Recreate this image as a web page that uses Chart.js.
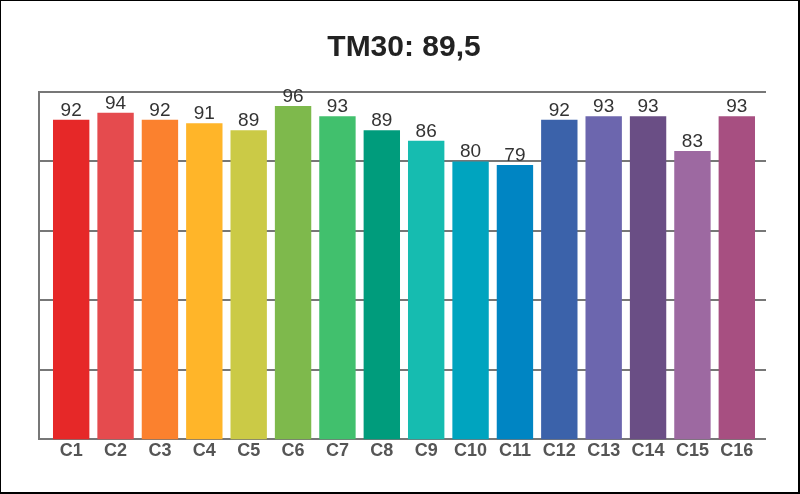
<!DOCTYPE html>
<html>
<head>
<meta charset="utf-8">
<script src="https://cdn.jsdelivr.net/npm/chart.js@4/dist/chart.umd.min.js"></script>
<style>
	html, body { margin: 0; padding: 0; background: #fff; }
	#wrap { position: relative; width: 800px; height: 494px; }
	#frame {
		position: absolute; left: 0; top: 0; right: 0; bottom: 0;
		border-left: 1px solid #000; border-top: 1px solid #000;
		border-right: 2px solid #000; border-bottom: 2px solid #000;
		pointer-events: none;
	}
</style>
</head>
<body>
<div id="wrap">
	<canvas id="tm30-chart" width="800" height="494"></canvas>
	<div id="frame"></div>
</div>
<script>
const titleText = 'TM30: 89,5';

const categories = ['C1', 'C2', 'C3', 'C4', 'C5', 'C6', 'C7', 'C8',
	'C9', 'C10', 'C11', 'C12', 'C13', 'C14', 'C15', 'C16'];

const fidelity = [92, 94, 92, 91, 89, 96, 93, 89, 86, 80, 79, 92, 93, 93, 83, 93];

const gridValues = [0, 20, 40, 60, 80, 100];

const binColors = [
	'#e62828',
	'#e54b4e',
	'#fb812e',
	'#ffb529',
	'#cbca46',
	'#7eb94c',
	'#41c06d',
	'#009c7c',
	'#16bcb0',
	'#00a4bf',
	'#0085c3',
	'#3b62aa',
	'#6c66ae',
	'#6a4e85',
	'#9d69a1',
	'#a74f81'
];

document.addEventListener('DOMContentLoaded', function () {
	const canvas = document.getElementById('tm30-chart');

	// grid frame runs a little past the bars on both sides
	const gridFrame = {
		id: 'gridFrame',
		beforeDatasetsDraw: function (chart) {
			const ctx = chart.ctx;
			const area = chart.chartArea;
			const y = chart.scales.y;
			const left = area.left - 10;
			const right = area.right + 7;

			ctx.save();
			ctx.strokeStyle = '#777';
			ctx.lineWidth = 2;
			ctx.beginPath();
			gridValues.forEach((v) => {
				const py = Math.round(y.getPixelForValue(v));
				ctx.moveTo(left - 1, py);
				ctx.lineTo(right, py);
			});
			ctx.moveTo(left, Math.round(y.getPixelForValue(100)));
			ctx.lineTo(left, Math.round(y.getPixelForValue(0)));
			ctx.stroke();
			ctx.restore();
		}
	};

	// values above each bar
	const valueLabels = {
		id: 'valueLabels',
		afterDatasetsDraw: function (chart) {
			const ctx = chart.ctx;
			const meta = chart.getDatasetMeta(0);

			ctx.save();
			ctx.font = '19px "Liberation Sans", Arial, sans-serif';
			ctx.fillStyle = '#333';
			ctx.textAlign = 'center';
			ctx.textBaseline = 'alphabetic';

			meta.data.forEach((bar, i) => {
				ctx.fillText(String(fidelity[i]), bar.x, bar.y - 4);
			});

			ctx.restore();
		}
	};

	new Chart(canvas, {
		type: 'bar',
		data: {
			labels: categories,
			datasets: [{
				data: fidelity,
				backgroundColor: binColors,
				borderWidth: 0,
				barPercentage: 0.82,
				categoryPercentage: 1
			}]
		},
		options: {
			responsive: false,
			animation: false,
			layout: {
				padding: { left: 49, right: 41, top: 0, bottom: 31 }
			},
			scales: {
				y: {
					min: 0,
					max: 100,
					ticks: {
						stepSize: 20,
						display: false
					},
					grid: {
						display: false,
						drawTicks: false
					},
					border: {
						display: false
					}
				},
				x: {
					grid: {
						display: false,
						drawTicks: false
					},
					border: {
						display: false
					},
					ticks: {
						color: '#555',
						padding: 1,
						font: {
							family: '"Liberation Sans", Arial, sans-serif',
							size: 18,
							weight: 'bold'
						}
					}
				}
			},
			plugins: {
				legend: { display: false },
				tooltip: { enabled: false },
				title: {
					display: true,
					text: titleText,
					color: '#222',
					padding: { top: 30, bottom: 26 },
					font: {
						family: '"Liberation Sans", Arial, sans-serif',
						size: 30,
						weight: 'bold'
					}
				}
			}
		},
		plugins: [gridFrame, valueLabels]
	});
});
</script>
</body>
</html>
